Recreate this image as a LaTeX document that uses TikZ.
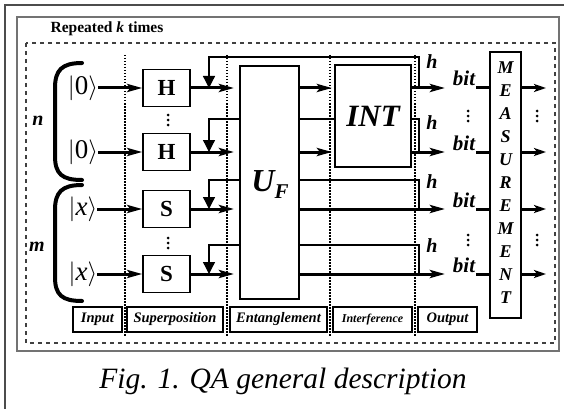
\documentclass[tikz,border=0pt]{standalone}
\usepackage{fontspec}
\setmainfont{Liberation Serif}
\usetikzlibrary{arrows.meta}
\definecolor{framedark}{gray}{0.3}
\definecolor{framegray}{gray}{0.45}
\tikzset{
  thickarrow/.style={line width=3pt,-{Stealth[length=15pt,width=8pt,inset=3pt]}},
  smallarrow/.style={line width=3pt,-{Stealth[length=12pt,width=8pt,inset=3pt]}},
  thickline/.style={line width=3pt},
  thinline/.style={line width=1.3pt},
  fbarrow/.style={line width=1.3pt,-{Triangle[length=12pt,width=12pt]}},
  gatebox/.style={draw,line width=1.5pt,minimum width=47pt,minimum height=37pt,inner sep=0pt,
    font=\fontsize{23}{23}\selectfont\bfseries},
  bigbox/.style={draw,line width=2pt,inner sep=0pt},
  lbl/.style={draw,line width=1.8pt,minimum height=25pt,inner sep=0pt,
    font=\fontsize{14.5}{14.5}\selectfont\bfseries\itshape},
  ket/.style={inner sep=0pt,font=\fontsize{27}{27}\selectfont},
  bi/.style={inner sep=0pt,font=\fontsize{20}{20}\selectfont\bfseries\itshape},
  dotline/.style={line width=1.3pt,dash pattern=on 1.5pt off 1.5pt},
  dashbox/.style={line width=1.2pt,draw=black!75,dash pattern=on 4pt off 4pt},
  brace/.style={line width=4pt,line cap=round}
}
\begin{document}
\begin{tikzpicture}[x=1pt,y=-1pt]
\useasboundingbox (0,0) rectangle (564,409);
% frames
\draw[framedark,line width=1.3pt] (564,5) -- (5,5) -- (5,409);
\draw[framegray,line width=1.6pt] (17,17) rectangle (559,351);
\draw[dashbox] (26,43) rectangle (555,343);
\node[inner sep=0pt,font=\fontsize{15.5}{15.5}\selectfont\bfseries] (rep) at (107,29) {Repeated \textit{k} times};
% dotted separators
\foreach \xx/\nm in {125/dA,227/dB,330/dC,415/dD}{
  \coordinate (\nm t) at (\xx,55);
  \coordinate (\nm b) at (\xx,337);
  \draw[dotline] (\nm t) -- (\nm b);
}
% braces
\draw[brace] (82,63) .. controls (62,63) and (55,70) .. (55,88) -- (55,156) .. controls (55,174) and (62,180) .. (82,180);
\draw[brace] (82,185) .. controls (62,185) and (55,192) .. (55,210) -- (55,277) .. controls (55,295) and (62,301) .. (82,301);
\node[bi] (nlab) at (38,121) {n};
\node[bi] (mlab) at (37,247) {m};
% kets
\node[ket] (k1) at (83,88) {$|$0$\rangle$};
\node[ket] (k2) at (83,152) {$|$0$\rangle$};
\node[ket] (k3) at (83,209) {$|$\textit{x}$\rangle$};
\node[ket] (k4) at (83,274) {$|$\textit{x}$\rangle$};
% gates
\node[gatebox] (H1) at (166.5,88) {H};
\node[gatebox] (H2) at (166.5,152) {H};
\node[gatebox] (S1) at (166.5,209) {S};
\node[gatebox] (S2) at (166.5,274) {S};
\foreach \a/\b in {k1/H1,k2/H2,k3/S1,k4/S2}{
  \draw[thickarrow] (\a.east |- \b) -- (\b.west);
}
% U_F
\node[bigbox,minimum width=59pt,minimum height=233pt] (UF) at (269.5,182.5) {};
\node[inner sep=0pt,font=\fontsize{32}{32}\selectfont\bfseries\itshape] (UFlab) at (270,185) {U\raisebox{-7pt}{\fontsize{21}{21}\selectfont F}};
\foreach \b in {H1,H2,S1,S2}{
  \draw[thickarrow,shorten >=5pt] (\b.east) -- (\b -| UF.west);
}
% INT
\node[bigbox,minimum width=76pt,minimum height=102pt,font=\fontsize{31}{31}\selectfont\bfseries\itshape] (INT) at (373,116) {INT};
% MEASUREMENT
\node[bigbox,minimum width=31pt,minimum height=266pt] (MEAS) at (505.5,185) {};
\node[inner sep=0pt,align=center,font=\fontsize{18}{23}\selectfont\bfseries\itshape] (MEASlab) at (505.5,183) {M\\E\\A\\S\\U\\R\\E\\M\\E\\N\\T};
% coordinates for connectors
\coordinate (fbTop) at (419,88);
\coordinate (fbL1) at (209,88);
\coordinate (fbU2) at (240,119);
\coordinate (fbL2) at (209,152);
\coordinate (fbU3) at (240,180);
\coordinate (fbL3) at (209,209);
\coordinate (fbU4) at (240,245);
\coordinate (fbL4) at (209,274);
% feedback arrows
\draw[fbarrow] (fbTop) -- (419,57) -| (fbL1);
\draw[fbarrow] (fbU2) -| (fbL2);
\draw[fbarrow] (fbU3) -| (fbL3);
\draw[fbarrow] (fbU4) -| (fbL4);
% U_F to INT
\coordinate (uo1) at (299,88);
\coordinate (uo2) at (299,119);
\coordinate (uo3) at (299,152);
\draw[thickarrow,shorten >=2pt] (uo1) -- (uo1 -| INT.west);
\draw[thinline] (uo2) -- (uo2 -| INT.west);
\draw[thickarrow,shorten >=2pt] (uo3) -- (uo3 -| INT.west);
% outputs
\coordinate (o1) at (445,88);
\coordinate (o2) at (445,152);
\coordinate (o3) at (445,209);
\coordinate (o4) at (445,274);
\coordinate (io2) at (411,119);
\coordinate (hj2) at (419,152);
\coordinate (uo5) at (299,180);
\coordinate (hj3) at (419,209);
\coordinate (uo6) at (299,245);
\coordinate (hj4) at (419,274);
\coordinate (uo7) at (299,209);
\coordinate (uo8) at (299,274);
\draw[thickarrow] (o1 -| INT.east) -- (o1);
\draw[thickarrow] (o2 -| INT.east) -- (o2);
\draw[thickarrow] (uo7) -- (o3);
\draw[thickarrow] (uo8) -- (o4);
\draw[thinline] (io2) -| (hj2);
\draw[thinline] (uo5) -| (hj3);
\draw[thinline] (uo6) -| (hj4);
% h labels
\node[bi] (h1) at (432,62) {h};
\node[bi] (h2) at (432,123) {h};
\node[bi] (h3) at (432,182) {h};
\node[bi] (h4) at (432,246) {h};
% bit labels and lines
\foreach \r/\nm in {88/b1,152/b2,209/b3,274/b4}{
  \node[bi,anchor=base,font=\fontsize{21}{21}\selectfont\bfseries\itshape] (\nm) at (464,\r-2) {bit};
  \coordinate (\nm s) at (476,\r);
  \coordinate (\nm o) at (546,\r);
  \draw[thickline] (\nm s) -- (\nm s -| MEAS.west);
  \draw[smallarrow] (\nm s -| MEAS.east) -- (\nm o);
}
% vertical dots
\foreach \xx/\yy in {468/116,537/116,468/240,537/240,168/120,168/243}{
  \fill (\xx,\yy-5) circle (1.5) (\xx,\yy) circle (1.5) (\xx,\yy+5) circle (1.5);
}
% bottom labels
\node[lbl,minimum width=49pt] (lin) at (97.5,319.5) {Input};
\node[lbl,minimum width=96pt] (lsup) at (175,319.5) {Superposition};
\node[lbl,minimum width=97pt] (lent) at (278.5,319.5) {Entanglement};
\node[lbl,minimum width=79pt,font=\fontsize{12}{12}\selectfont\bfseries\itshape] (lint) at (372.5,319.5) {Interference};
\node[lbl,minimum width=59pt] (lout) at (447.5,319.5) {Output};
% caption
\node[inner sep=0pt,font=\fontsize{29.5}{29.5}\selectfont\itshape] (cap) at (283,381) {Fig. 1. QA general description};
\end{tikzpicture}
\end{document}
